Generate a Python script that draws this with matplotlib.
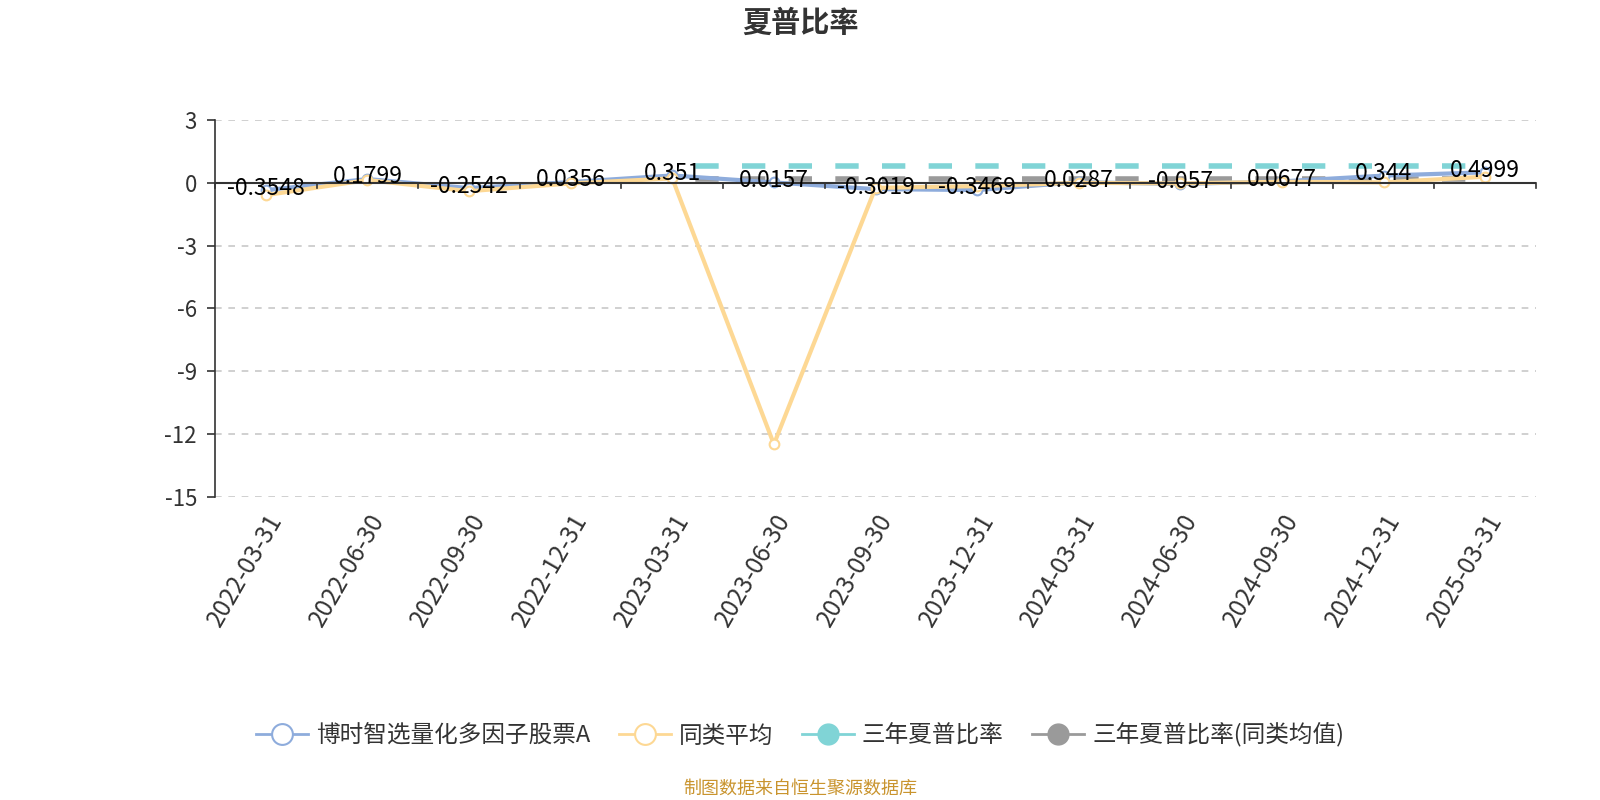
import matplotlib.pyplot as plt
from matplotlib.lines import Line2D

plt.rcParams['font.family'] = ['Noto Sans CJK SC', 'DejaVu Sans']

dates = ['2022-03-31', '2022-06-30', '2022-09-30', '2022-12-31', '2023-03-31',
         '2023-06-30', '2023-09-30', '2023-12-31', '2024-03-31', '2024-06-30',
         '2024-09-30', '2024-12-31', '2025-03-31']
fund = [-0.3548, 0.1799, -0.2542, 0.0356, 0.351, 0.0157, -0.3019, -0.3469,
        0.0287, -0.057, 0.0677, 0.344, 0.4999]
peer_avg = [-0.59, 0.13, -0.40, -0.03, 0.21, -12.49, -0.24, -0.16, 0.0, -0.03,
            0.05, 0.02, 0.29]
# 三年夏普比率 只从 2023-03-31 开始有值
sharpe_3y = [None, None, None, None, 0.8, 0.8, 0.8, 0.8, 0.8, 0.8, 0.8, 0.8, 0.8]
sharpe_3y_peer = [None, None, None, None, 0.16, 0.16, 0.16, 0.16, 0.16, 0.16, 0.16, 0.16, 0.16]
yticks = [3, 0, -3, -6, -9, -12, -15]

c_blue = '#8eacdc'
c_yellow = '#fdd894'
c_teal = '#80d4d6'
c_gray = '#9a9a9a'

fig = plt.figure(figsize=(16, 8), dpi=100)
ax = fig.add_axes([0.1344, 0.379, 0.8256, 0.471])

x = list(range(len(dates)))


def valid(vals):
    pts = [(i, v) for i, v in zip(x, vals) if v is not None]
    return [p[0] for p in pts], [p[1] for p in pts]


xs, ys = valid(sharpe_3y)
ax.plot(xs, ys, color=c_teal, lw=4, ls=(4.2, (4.2, 4.2)), zorder=2)
xs, ys = valid(sharpe_3y_peer)
ax.plot(xs, ys, color=c_gray, lw=4, ls=(4.2, (4.2, 4.2)), zorder=2)

ax.plot(x, fund, color=c_blue, lw=3, marker='o', ms=7, mfc='white',
        mec=c_blue, mew=1.5, zorder=3)
ax.plot(x, peer_avg, color=c_yellow, lw=3, marker='o', ms=7, mfc='white',
        mec=c_yellow, mew=1.5, zorder=4)

for i, v in zip(x, fund):
    ax.annotate(f'{v:g}', (i, v), xytext=(0, 1.5), textcoords='offset points',
                ha='center', va='center', fontsize=16.5, color='black', zorder=6)

ax.set_xlim(-0.5, len(dates) - 0.5)
ax.set_ylim(-15, 3)
ax.set_yticks(yticks)
ax.set_yticklabels([str(t) for t in yticks], fontsize=16, color='#333333')
ax.yaxis.grid(True, linestyle=(0, (4, 4)), color='#c8c8c8', lw=1.2)
ax.set_axisbelow(True)

ax.set_xticks(x)
ax.set_xticklabels(dates, rotation=60, ha='right', va='top', fontsize=17.5,
                   color='#333333', rotation_mode='anchor')
ax.tick_params(axis='x', length=0, pad=9)
ax.tick_params(axis='y', length=6, width=1.2, color='#333333', pad=7)

# 类目之间的刻度线画在 0 轴上
for b in range(len(dates) + 1):
    ax.plot([b - 0.5, b - 0.5], [0, -0.25], color='#333333', lw=1.2,
            clip_on=False, zorder=5)

for s in ['top', 'right', 'bottom']:
    ax.spines[s].set_visible(False)
ax.spines['left'].set_color('#333333')
ax.spines['left'].set_linewidth(1.2)
ax.axhline(0, color='#333333', lw=1.5, zorder=5)

fig.text(0.5, 0.972, '夏普比率', ha='center', va='center', fontsize=21,
         fontweight='bold', color='#333333')

handles = [
    Line2D([], [], color=c_blue, lw=2, marker='o', ms=15, mfc='white', mec=c_blue, mew=1.5),
    Line2D([], [], color=c_yellow, lw=2, marker='o', ms=15, mfc='white', mec=c_yellow, mew=1.5),
    Line2D([], [], color=c_teal, lw=2, marker='o', ms=15, mfc=c_teal, mec=c_teal),
    Line2D([], [], color=c_gray, lw=2, marker='o', ms=15, mfc=c_gray, mec=c_gray),
]
labels = ['博时智选量化多因子股票A', '同类平均', '三年夏普比率', '三年夏普比率(同类均值)']
leg = fig.legend(handles, labels, loc='center', bbox_to_anchor=(0.5, 0.081), ncol=4,
                 frameon=False, fontsize=17, handlelength=2.2, handletextpad=0.35,
                 columnspacing=1.2)
for t in leg.get_texts():
    t.set_color('#333333')

fig.text(0.5, 0.014, '制图数据来自恒生聚源数据库', ha='center', va='center',
         fontsize=13, color='#c9942e')

fig.savefig('out.png', dpi=100)
